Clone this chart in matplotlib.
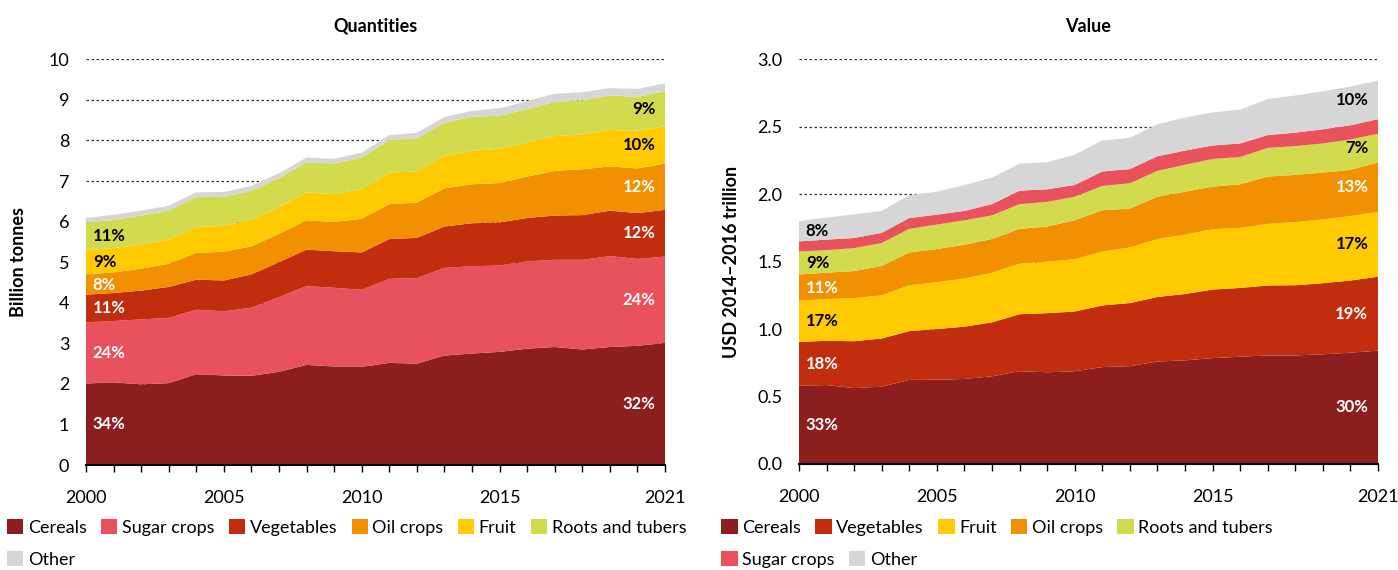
import matplotlib
matplotlib.use('Agg')
import matplotlib.pyplot as plt
import numpy as np
from matplotlib.patches import Patch

plt.rcParams['font.family'] = ['Lato', 'DejaVu Sans']

years = np.arange(2000, 2022)

# Quantities (billion tonnes), stacked bottom to top
q_cereals = [2.01, 2.04, 1.99, 2.02, 2.24, 2.21, 2.20, 2.30, 2.47, 2.43, 2.42,
             2.52, 2.50, 2.70, 2.75, 2.79, 2.87, 2.91, 2.85, 2.91, 2.94, 3.01]
q_sugar = [1.51, 1.51, 1.60, 1.61, 1.59, 1.58, 1.68, 1.84, 1.94, 1.94, 1.90,
           2.07, 2.11, 2.16, 2.15, 2.13, 2.15, 2.15, 2.21, 2.24, 2.14, 2.13]
q_veg = [0.68, 0.69, 0.71, 0.76, 0.74, 0.76, 0.82, 0.86, 0.90, 0.90, 0.92,
         0.98, 0.99, 1.02, 1.06, 1.06, 1.07, 1.09, 1.10, 1.12, 1.13, 1.15]
q_oil = [0.50, 0.51, 0.54, 0.57, 0.66, 0.71, 0.69, 0.70, 0.72, 0.72, 0.83,
         0.86, 0.87, 0.94, 0.96, 0.97, 1.02, 1.10, 1.13, 1.09, 1.10, 1.14]
q_fruit = [0.59, 0.60, 0.59, 0.60, 0.63, 0.64, 0.66, 0.65, 0.69, 0.69, 0.73,
           0.78, 0.77, 0.80, 0.82, 0.85, 0.84, 0.86, 0.86, 0.90, 0.93, 0.92]
q_roots = [0.69, 0.69, 0.72, 0.71, 0.74, 0.71, 0.71, 0.72, 0.74, 0.75, 0.78,
           0.80, 0.81, 0.82, 0.84, 0.81, 0.82, 0.84, 0.84, 0.85, 0.83, 0.87]
q_other = [0.11, 0.13, 0.12, 0.12, 0.12, 0.12, 0.12, 0.12, 0.12, 0.12, 0.12,
           0.12, 0.14, 0.14, 0.15, 0.18, 0.20, 0.20, 0.20, 0.18, 0.20, 0.19]
q_names = ['Cereals', 'Sugar crops', 'Vegetables', 'Oil crops', 'Fruit',
           'Roots and tubers', 'Other']
q_first = ['34%', '24%', '11%', '8%', '9%', '11%', '']
q_last = ['32%', '24%', '12%', '12%', '10%', '9%', '']

# Value (USD 2014-2016 trillion), stacked bottom to top
v_cereals = [0.580, 0.585, 0.563, 0.573, 0.623, 0.625, 0.630, 0.650, 0.688, 0.680, 0.688,
             0.718, 0.725, 0.760, 0.768, 0.785, 0.795, 0.805, 0.805, 0.813, 0.825, 0.840]
v_veg = [0.325, 0.328, 0.347, 0.357, 0.362, 0.375, 0.388, 0.400, 0.422, 0.438, 0.442,
         0.457, 0.468, 0.478, 0.492, 0.508, 0.510, 0.518, 0.520, 0.527, 0.535, 0.548]
v_fruit = [0.305, 0.310, 0.320, 0.320, 0.340, 0.348, 0.357, 0.368, 0.375, 0.382, 0.388,
           0.400, 0.412, 0.430, 0.440, 0.447, 0.445, 0.457, 0.468, 0.473, 0.478, 0.480]
v_oil = [0.195, 0.195, 0.200, 0.218, 0.243, 0.245, 0.250, 0.250, 0.258, 0.260, 0.288,
         0.306, 0.288, 0.313, 0.318, 0.316, 0.323, 0.351, 0.350, 0.347, 0.342, 0.368]
v_roots = [0.170, 0.167, 0.170, 0.170, 0.175, 0.182, 0.181, 0.175, 0.183, 0.183, 0.175,
           0.180, 0.188, 0.192, 0.200, 0.205, 0.203, 0.212, 0.213, 0.216, 0.226, 0.212]
v_sugar = [0.075, 0.078, 0.075, 0.075, 0.080, 0.073, 0.070, 0.083, 0.100, 0.093, 0.087,
           0.107, 0.105, 0.108, 0.105, 0.100, 0.100, 0.095, 0.100, 0.105, 0.105, 0.108]
v_other = [0.150, 0.163, 0.176, 0.163, 0.170, 0.170, 0.192, 0.197, 0.200, 0.200, 0.225,
           0.230, 0.232, 0.237, 0.245, 0.245, 0.250, 0.268, 0.275, 0.282, 0.287, 0.287]
v_names = ['Cereals', 'Vegetables', 'Fruit', 'Oil crops', 'Roots and tubers',
           'Sugar crops', 'Other']
v_first = ['33%', '18%', '17%', '11%', '9%', '', '8%']
v_last = ['30%', '19%', '17%', '13%', '7%', '', '10%']

colors = {
    'Cereals': '#8c1f1e',
    'Sugar crops': '#e9515d',
    'Vegetables': '#c12d0d',
    'Oil crops': '#f19000',
    'Fruit': '#ffcb00',
    'Roots and tubers': '#d2da4e',
    'Other': '#d6d6d6',
}
dark_text = ['Fruit', 'Roots and tubers', 'Other']


def draw_panel(ax, series, names, first, last, title, ylabel, ymax, yticks, fmt):
    data = np.array(series)
    ax.stackplot(years, data, colors=[colors[n] for n in names], linewidth=0, zorder=2)
    ax.set_xlim(2000, 2021)
    ax.set_ylim(0, ymax)
    ax.set_yticks(yticks)
    ax.set_yticklabels([fmt.format(t) for t in yticks])
    ax.grid(axis='y', color='#333333', linestyle=(0, (2, 2)), linewidth=0.9, zorder=1)
    ax.set_axisbelow(True)
    for s in ['top', 'right', 'left']:
        ax.spines[s].set_visible(False)
    ax.spines['bottom'].set_linewidth(1.5)
    ax.spines['bottom'].set_zorder(3)
    ax.set_xticks([2000, 2005, 2010, 2015, 2021])
    ax.set_xticks(years, minor=True)
    ax.tick_params(axis='x', which='both', length=5, width=1, pad=13, labelsize=13)
    ax.tick_params(axis='y', length=0, pad=12, labelsize=13)
    ax.set_title(title, fontsize=13, fontweight='bold', pad=20)
    ax.set_ylabel(ylabel, fontsize=13, fontweight='bold')
    ax.yaxis.set_label_coords(-0.102, 0.5)

    cum = np.cumsum(data, axis=0)
    base = cum - data
    for i, n in enumerate(names):
        c = 'black' if n in dark_text else 'white'
        if first[i]:
            y0 = (base[i][0] + cum[i][0]) / 2
            ax.text(2000.25, y0, first[i], color=c, fontsize=12, fontweight='bold',
                    ha='left', va='center', zorder=4)
        if last[i]:
            y1 = (base[i][-1] + cum[i][-1]) / 2
            ax.text(2020.65, y1, last[i], color=c, fontsize=12, fontweight='bold',
                    ha='right', va='center', zorder=4)


fig = plt.figure(figsize=(13.98, 5.70), dpi=100)
ax1 = fig.add_axes([0.0615, 0.184, 0.4142, 0.712])
ax2 = fig.add_axes([0.5715, 0.186, 0.4142, 0.710])

draw_panel(ax1, [q_cereals, q_sugar, q_veg, q_oil, q_fruit, q_roots, q_other],
           q_names, q_first, q_last, 'Quantities', 'Billion tonnes', 10,
           list(range(0, 11)), '{:d}')
draw_panel(ax2, [v_cereals, v_veg, v_fruit, v_oil, v_roots, v_sugar, v_other],
           v_names, v_first, v_last, 'Value', 'USD 2014\u20132016 trillion', 3.0,
           [0.0, 0.5, 1.0, 1.5, 2.0, 2.5, 3.0], '{:.1f}')


def legend_row(names, x, y):
    handles = [Patch(facecolor=colors[n], edgecolor='none', label=n) for n in names]
    fig.legend(handles=handles, loc='center left', bbox_to_anchor=(x, y),
               ncol=len(names), frameon=False, fontsize=13, handlelength=0.9,
               handleheight=0.9, handletextpad=0.25, columnspacing=0.8,
               borderpad=0, borderaxespad=0)


legend_row(q_names[:6], 0.005, 0.075)
legend_row(q_names[6:], 0.005, 0.019)
legend_row(v_names[:5], 0.516, 0.075)
legend_row(v_names[5:], 0.516, 0.019)

fig.savefig('out.png', dpi=100)
